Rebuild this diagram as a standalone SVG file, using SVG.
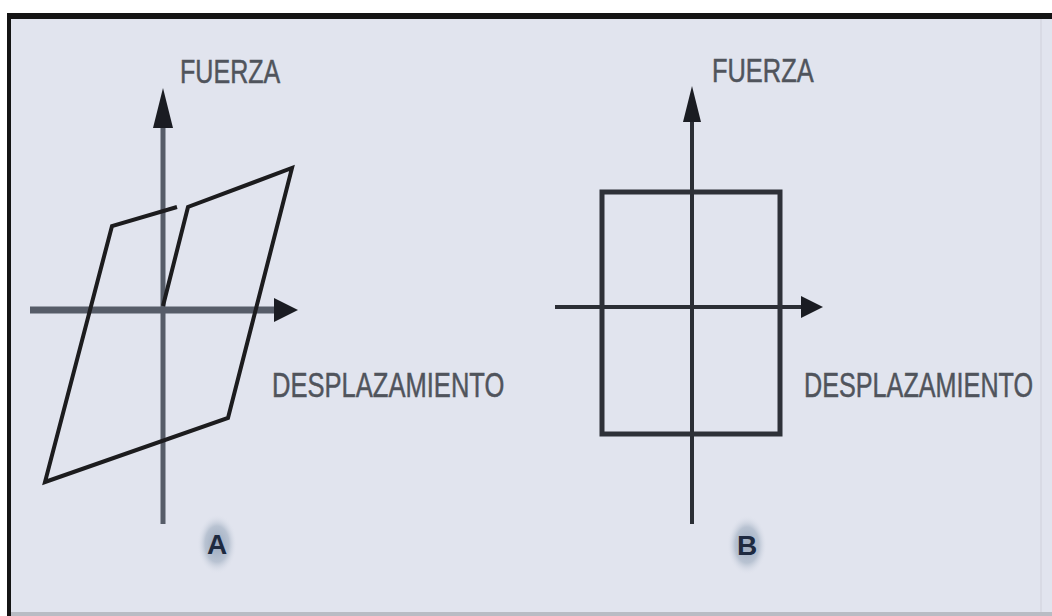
<svg xmlns="http://www.w3.org/2000/svg" width="1052" height="616" viewBox="0 0 1052 616">
  <defs>
    <style>
      .lbl { font-family: "Liberation Sans", Arial, sans-serif; fill: #50545c; stroke: #50545c; stroke-width: 0.5; }
      .tag { font-family: "Liberation Sans", Arial, sans-serif; font-weight: bold; fill: #1e2a40; }
      .axA { stroke: #565c68; fill: none; }
      .axB { stroke: #2b2e35; fill: none; stroke-width: 4; }
      .curve { stroke: #1c1c1e; fill: none; stroke-width: 4; stroke-linejoin: miter; }
      .head { stroke: none; }
    </style>
    <radialGradient id="halo" cx="0.5" cy="0.5" r="0.5">
      <stop offset="0" stop-color="#9aa9be"/>
      <stop offset="0.6" stop-color="#b9c3d2"/>
      <stop offset="1" stop-color="#e1e4ee" stop-opacity="0"/>
    </radialGradient>
  </defs>

  <!-- background and frame -->
  <rect x="0" y="0" width="1052" height="616" fill="#ffffff"/>
  <rect x="8" y="14" width="1044" height="602" fill="#e1e4ee"/>
  <rect x="8" y="13" width="1044" height="6" fill="#141414"/>
  <rect x="7" y="13" width="4" height="603" fill="#141414"/>
  <rect x="11" y="612" width="1041" height="4" fill="#b9bcc4"/>
  <rect x="1040" y="19" width="2" height="593" fill="#d8dae4"/>

  <!-- Panel A -->
  <g id="panelA">
    <g id="axesA">
      <line class="axA" x1="163" y1="124" x2="163" y2="524" stroke-width="5"/>
      <polygon class="head" fill="#1a1c22" points="163,88 153,128 173,128"/>
      <line class="axA" x1="30" y1="310" x2="278" y2="310" stroke-width="7"/>
      <polygon class="head" fill="#1a1c22" points="298,310 274,298 274,322"/>
    </g>
    <g id="loopA">
      <polyline class="curve" points="177,207 112,226 45,482 228,418 292,168 188,207 163,306"/>
    </g>
    <text class="lbl" transform="translate(180,83) scale(0.76,1)" font-size="33">FUERZA</text>
    <text class="lbl" transform="translate(272,397) scale(0.71,1)" font-size="36">DESPLAZAMIENTO</text>
    <g id="tagA">
      <ellipse cx="217" cy="544" rx="20" ry="30" fill="url(#halo)"/>
      <text class="tag" x="217" y="554" font-size="28" text-anchor="middle">A</text>
    </g>
  </g>

  <!-- Panel B -->
  <g id="panelB">
    <g id="axesB">
      <line class="axB" x1="692" y1="118" x2="692" y2="524"/>
      <polygon class="head" fill="#1a1c22" points="692,86 683,122 701,122"/>
      <line class="axB" x1="555" y1="307" x2="806" y2="307"/>
      <polygon class="head" fill="#1a1c22" points="823,307 801,296 801,318"/>
    </g>
    <g id="rectB">
      <rect x="602" y="192" width="178" height="242" fill="none" stroke="#2e3138" stroke-width="5"/>
    </g>
    <text class="lbl" transform="translate(712,82) scale(0.77,1)" font-size="33">FUERZA</text>
    <text class="lbl" transform="translate(804,397) scale(0.70,1)" font-size="36">DESPLAZAMIENTO</text>
    <g id="tagB">
      <ellipse cx="747" cy="545" rx="20" ry="30" fill="url(#halo)"/>
      <text class="tag" x="747" y="555" font-size="28" text-anchor="middle">B</text>
    </g>
  </g>
</svg>
